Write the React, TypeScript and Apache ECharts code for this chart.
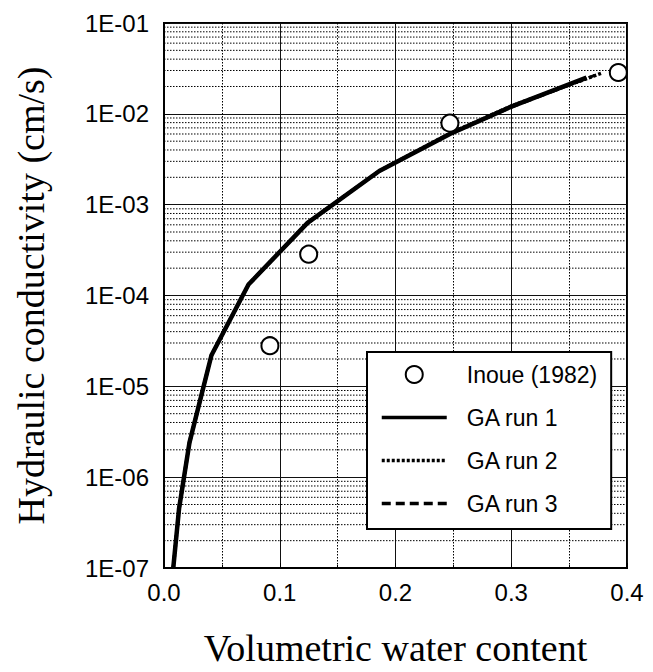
import React, { useEffect, useRef } from "react";
import * as echarts from "echarts";

// Observed data: Inoue (1982)
const inoueTheta = [0.0915, 0.125, 0.247, 0.3925];
const inoueK = [2.8e-5, 2.85e-4, 7.9e-3, 2.85e-2];

// GA fitted curves
const run1Theta = [0.008, 0.013, 0.022, 0.041, 0.073, 0.124, 0.186, 0.247, 0.3, 0.365];
const run1K = [1e-7, 4.5e-7, 2.4e-6, 2.2e-5, 1.32e-4, 6.3e-4, 2.35e-3, 6.0e-3, 1.2e-2, 2.5e-2];

const run2Theta = [0.008, 0.013, 0.022, 0.041, 0.073, 0.124, 0.186, 0.247, 0.3, 0.378];
const run2K = [1e-7, 4.5e-7, 2.4e-6, 2.2e-5, 1.32e-4, 6.3e-4, 2.35e-3, 6.1e-3, 1.22e-2, 2.8e-2];

const run3Theta = [0.008, 0.013, 0.022, 0.041, 0.073, 0.124, 0.186, 0.247, 0.3, 0.372];
const run3K = [1e-7, 4.5e-7, 2.4e-6, 2.2e-5, 1.32e-4, 6.3e-4, 2.35e-3, 6.0e-3, 1.18e-2, 2.65e-2];

const yTickLabels = ["1E-07", "1E-06", "1E-05", "1E-04", "1E-03", "1E-02", "1E-01"];
const decadeExponents = [-7, -6, -5, -4, -3, -2];
const minorFactors = [2, 3, 4, 5, 6, 7, 8, 9];

const seriesNames = ["Inoue (1982)", "GA run 1", "GA run 2", "GA run 3"];

const zip = (xs: number[], ys: number[]) => xs.map((x, i) => [x, ys[i]]);

export default function App() {
  const ref = useRef<HTMLDivElement>(null);
  useEffect(() => {
    if (!ref.current) return;
    const chart = echarts.init(ref.current, undefined, { renderer: "svg" });
    const minorY: number[][] = [];
    decadeExponents.forEach((e) =>
      minorFactors.forEach((f) => minorY.push([0, f * Math.pow(10, e)]))
    );
    const sans = "Liberation Sans, Arial, Helvetica, sans-serif";
    const serif = "Liberation Serif, Times New Roman, serif";
    const hidden = { opacity: 0, color: "rgba(0,0,0,0)", borderWidth: 0 };
    chart.setOption({
      animation: false,
      backgroundColor: "#fff",
      grid: {
        left: 164,
        right: 26,
        top: 23,
        bottom: 97,
        show: true,
        borderColor: "#000",
        borderWidth: 2,
        backgroundColor: "transparent",
      },
      xAxis: {
        type: "value",
        min: 0,
        max: 0.4,
        interval: 0.1,
        name: "Volumetric water content",
        nameLocation: "middle",
        nameGap: 61,
        nameTextStyle: { fontFamily: serif, fontSize: 38, color: "#000" },
        axisLine: { show: true, lineStyle: { color: "#000", width: 2 } },
        axisTick: { show: true, inside: true, length: 5, lineStyle: { color: "#000" } },
        minorTick: { show: true, splitNumber: 2, length: 3, lineStyle: { color: "#000" } },
        axisLabel: {
          margin: 12,
          fontFamily: sans,
          fontSize: 24,
          color: "#000",
          formatter: (v: number) => v.toFixed(1),
        },
        splitLine: { show: true, lineStyle: { color: "#111", width: 1, type: "solid" } },
        minorSplitLine: { show: true, lineStyle: { color: "#000", width: 1, type: [1.5, 1.5] } },
      },
      yAxis: {
        type: "log",
        logBase: 10,
        min: 1e-7,
        max: 1e-1,
        interval: 1,
        name: "Hydraulic conductivity (cm/s)",
        nameLocation: "middle",
        nameGap: 114,
        nameTextStyle: { fontFamily: serif, fontSize: 38, color: "#000" },
        axisLine: { show: true, lineStyle: { color: "#000", width: 2 } },
        axisTick: { show: true, inside: true, length: 6, lineStyle: { color: "#000" } },
        axisLabel: {
          margin: 15,
          fontFamily: sans,
          fontSize: 24,
          color: "#000",
          formatter: (v: number) => yTickLabels[Math.round(Math.log10(v)) + 7] ?? "",
        },
        splitLine: { show: true, lineStyle: { color: "#111", width: 1, type: "solid" } },
      },
      legend: {
        left: 367,
        top: 352,
        orient: "vertical",
        backgroundColor: "#fff",
        borderColor: "#000",
        borderWidth: 2,
        padding: [11, 14, 14, 13],
        itemWidth: 65,
        itemHeight: 17,
        itemGap: 20,
        textStyle: { fontFamily: sans, fontSize: 23, color: "#000", padding: [0, 0, 0, 15] },
        data: [
          { name: seriesNames[0] },
          { name: seriesNames[1], itemStyle: hidden, lineStyle: { width: 3.5, type: "solid", color: "#000" } },
          { name: seriesNames[2], itemStyle: hidden, lineStyle: { width: 3.5, type: [3, 2], color: "#000" } },
          { name: seriesNames[3], itemStyle: hidden, lineStyle: { width: 3.5, type: [9, 5], color: "#000" } },
        ],
      },
      series: [
        {
          name: "minor-grid",
          type: "custom",
          silent: true,
          z: 1,
          data: minorY,
          renderItem: (_params: any, api: any) => {
            const v = api.value(1);
            const p1 = api.coord([0, v]);
            const p2 = api.coord([0.4, v]);
            return {
              type: "line",
              silent: true,
              shape: { x1: p1[0], y1: p1[1], x2: p2[0], y2: p2[1] },
              style: { stroke: "#000", lineWidth: 1, lineDash: [1.5, 1.5] },
            };
          },
        },
        {
          name: seriesNames[1],
          type: "line",
          data: zip(run1Theta, run1K),
          symbol: "none",
          z: 3,
          lineStyle: { color: "#000", width: 4.5, type: "solid" },
          itemStyle: { color: "#000" },
        },
        {
          name: seriesNames[2],
          type: "line",
          data: zip(run2Theta, run2K),
          symbol: "none",
          z: 4,
          lineStyle: { color: "#000", width: 3.5, type: [3, 2] },
          itemStyle: { color: "#000" },
        },
        {
          name: seriesNames[3],
          type: "line",
          data: zip(run3Theta, run3K),
          symbol: "none",
          z: 4,
          lineStyle: { color: "#000", width: 3, type: [9, 5] },
          itemStyle: { color: "#000" },
        },
        {
          name: seriesNames[0],
          type: "scatter",
          data: zip(inoueTheta, inoueK),
          symbol: "circle",
          symbolSize: 17,
          z: 5,
          itemStyle: { color: "#fff", borderColor: "#000", borderWidth: 2, opacity: 1 },
        },
      ],
    });
    return () => chart.dispose();
  }, []);
  return (
    <div
      ref={ref}
      style={{ position: "fixed", left: 0, top: 0, width: 653, height: 672 }}
    />
  );
}
